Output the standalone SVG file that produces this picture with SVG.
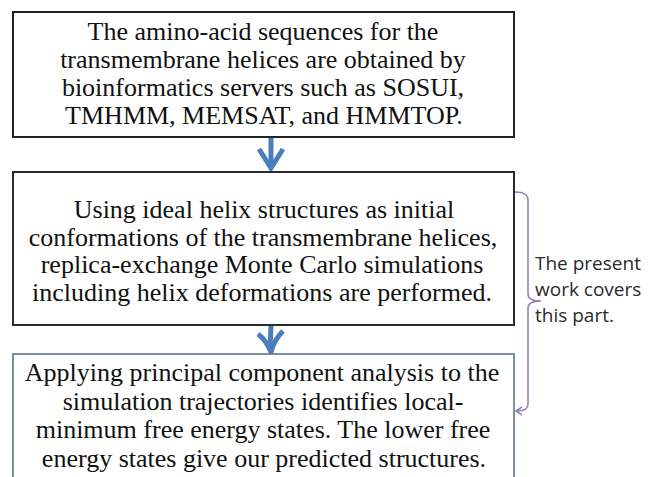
<svg xmlns="http://www.w3.org/2000/svg" width="659" height="477" viewBox="0 0 659 477">
<style>
.box{fill:#fff;stroke-width:2}
.t{font-family:"Liberation Serif","Times New Roman",serif;font-size:26px;fill:#111;text-anchor:middle}
.side{font-family:"Open Sans","Liberation Sans",sans-serif;font-size:19px;fill:#2b2b2b}
.arr{fill:none;stroke:#4a7ebb;stroke-width:5;stroke-linejoin:miter}
.br{fill:none;stroke:#9584b8;stroke-width:1.6}
</style>
<rect width="659" height="477" fill="#fff"/>
<g id="connectors">
<path class="arr" d="M271,137 L271,165"/>
<path class="arr" d="M259,149 L271,168 L283,149"/>
<path class="arr" d="M271,326 L270,350"/>
<path class="arr" d="M258,334 Q266,340 271,352 Q274,340 283,331"/>
<path class="br" d="M515,192 Q528,192 528,200 L528,294 Q528,301 541,301 Q528,301 528,308 L528,404 Q528,411 517,411"/>
<path class="br" d="M522,407 L516,411 L522,415"/>
</g>
<g id="node1">
<rect class="box" x="13" y="12" width="501" height="125" stroke="#222"/>
<text class="t" x="263" y="40">The amino-acid sequences for the</text>
<text class="t" x="263" y="68">transmembrane helices are obtained by</text>
<text class="t" x="263" y="96">bioinformatics servers such as SOSUI,</text>
<text class="t" x="264" y="124">TMHMM, MEMSAT, and HMMTOP.</text>
</g>
<g id="node2">
<rect class="box" x="13" y="172" width="501" height="153" stroke="#2a2a2a"/>
<text class="t" x="264" y="218">Using ideal helix structures as initial</text>
<text class="t" x="263" y="246">conformations of the transmembrane helices,</text>
<text class="t" x="262" y="273">replica-exchange Monte Carlo simulations</text>
<text class="t" x="262" y="301">including helix deformations are performed.</text>
</g>
<g id="node3">
<rect x="13" y="354" width="501" height="140" fill="#fff" stroke="#62758a" stroke-width="1.6"/>
<text class="t" x="262" y="381">Applying principal component analysis to the</text>
<text class="t" x="263" y="410">simulation trajectories identifies local-</text>
<text class="t" x="263" y="438">minimum free energy states. The lower free</text>
<text class="t" x="264" y="467">energy states give our predicted structures.</text>
</g>
<g id="note">
<text class="side" x="535" y="270">The present</text>
<text class="side" x="535" y="296">work covers</text>
<text class="side" x="535" y="322">this part.</text>
</g>
</svg>
